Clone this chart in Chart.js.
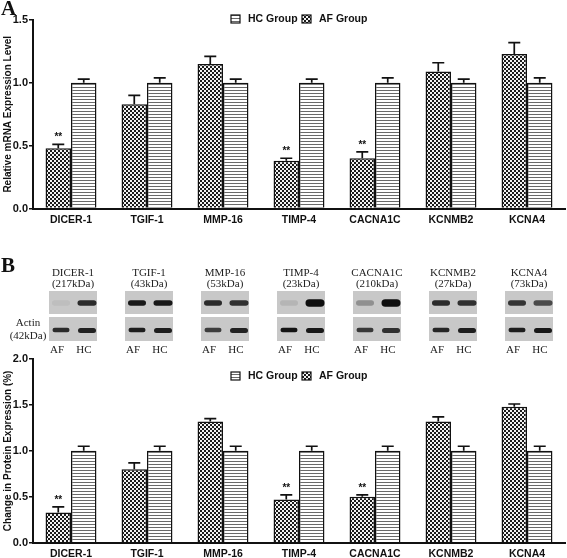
<!DOCTYPE html>
<html>
<head>
<meta charset="utf-8">
<script src="https://cdn.jsdelivr.net/npm/chart.js@4/dist/chart.umd.min.js"></script>
<style>
  html,body{margin:0;padding:0;background:#fff;}
  #wrap{position:relative;width:567px;height:558px;overflow:hidden;background:#fff;}
  canvas{position:absolute;left:0;}
  #cA{top:0;}
  #cB{top:230px;}
</style>
</head>
<body>
<div id="wrap">
  <canvas id="cA" width="567" height="230"></canvas>
  <canvas id="cB" width="567" height="328"></canvas>
</div>
<script>
// ---------- data ----------
const categories = ['DICER-1','TGIF-1','MMP-16','TIMP-4','CACNA1C','KCNMB2','KCNA4'];
const kdaLabels  = ['(217kDa)','(43kDa)','(53kDa)','(23kDa)','(210kDa)','(27kDa)','(73kDa)'];

const mrnaAF    = [0.48, 0.83, 1.15, 0.38, 0.40, 1.09, 1.23];
const mrnaAFErr = [0.03, 0.07, 0.06, 0.02, 0.05, 0.07, 0.09];
const mrnaHC    = [1.00, 1.00, 1.00, 1.00, 1.00, 1.00, 1.00];
const mrnaHCErr = [0.03, 0.04, 0.03, 0.03, 0.04, 0.03, 0.04];
const mrnaSig   = [true, false, false, true, true, false, false];

const protAF    = [0.33, 0.80, 1.32, 0.47, 0.50, 1.32, 1.48];
const protAFErr = [0.06, 0.07, 0.03, 0.05, 0.02, 0.05, 0.03];
const protHC    = [1.00, 1.00, 1.00, 1.00, 1.00, 1.00, 1.00];
const protHCErr = [0.05, 0.05, 0.05, 0.05, 0.05, 0.05, 0.05];
const protSig   = [true, false, false, true, true, false, false];

// western blot band intensities (0..1)
const blotTargetAF = [0.05, 0.95, 0.85, 0.10, 0.30, 0.85, 0.80];
const blotTargetHC = [0.85, 0.95, 0.82, 1.00, 1.00, 0.82, 0.68];
const blotActinAF  = [0.85, 0.92, 0.75, 0.98, 0.78, 0.88, 0.92];
const blotActinHC  = [0.90, 0.92, 0.90, 0.95, 0.82, 0.92, 0.95];

const yTicksA = [0, 0.5, 1.0, 1.5];
const yTicksB = [0, 0.5, 1.0, 1.5, 2.0];

// ---------- patterns ----------
function stripePattern(){
  const c=document.createElement('canvas'); c.width=4; c.height=3;
  const g=c.getContext('2d');
  g.fillStyle='#fff'; g.fillRect(0,0,4,3);
  g.fillStyle='#6a6a6a'; g.fillRect(0,0,4,1);
  return g.createPattern(c,'repeat');
}
function checkerPattern(){
  const c=document.createElement('canvas'); c.width=4; c.height=4;
  const g=c.getContext('2d');
  g.fillStyle='#f2f2f2'; g.fillRect(0,0,4,4);
  g.fillStyle='#1a1a1a'; g.fillRect(0,0,2,2); g.fillRect(2,2,2,2);
  return g.createPattern(c,'repeat');
}
const pHC = stripePattern();
const pAF = checkerPattern();

const INK = '#111';
const SANS = "'Liberation Sans', Arial, sans-serif";
const SERIF = "'Liberation Serif', 'Times New Roman', serif";

// ---------- plugins ----------
const errPlugin = {
  id:'errbars',
  afterDatasetsDraw(chart){
    const ctx=chart.ctx, ys=chart.scales.y;
    chart.data.datasets.forEach((ds,di)=>{
      const meta=chart.getDatasetMeta(di);
      meta.data.forEach((bar,i)=>{
        const v=ds.data[i], e=ds.err[i];
        const x=bar.x, y0=ys.getPixelForValue(v), y1=ys.getPixelForValue(v+e);
        ctx.save();
        ctx.strokeStyle=INK; ctx.lineWidth=1.7;
        ctx.beginPath();
        ctx.moveTo(x,y0); ctx.lineTo(x,y1);
        ctx.moveTo(x-6,y1); ctx.lineTo(x+6,y1);
        ctx.stroke();
        if(ds.sig && ds.sig[i]){
          ctx.fillStyle=INK; ctx.font="bold 10px "+SANS;
          ctx.textAlign='center'; ctx.textBaseline='middle';
          ctx.fillText('**', x, y1-7);
        }
        ctx.restore();
      });
    });
  }
};

function drawLegend(ctx, y){
  const items=[{x:231,label:'HC Group',p:pHC},{x:302,label:'AF Group',p:pAF}];
  items.forEach(it=>{
    ctx.save();
    ctx.fillStyle=it.p; ctx.fillRect(it.x, y-4, 9, 8);
    ctx.strokeStyle=INK; ctx.lineWidth=1.2; ctx.strokeRect(it.x, y-4, 9, 8);
    ctx.fillStyle=INK; ctx.font="bold 10.5px "+SANS;
    ctx.textAlign='left'; ctx.textBaseline='middle';
    ctx.fillText(it.label, it.x+17, y+0.5);
    ctx.restore();
  });
}

const decoA = {
  id:'decoA',
  afterDraw(chart){
    const ctx=chart.ctx;
    ctx.save();
    ctx.fillStyle=INK; ctx.font="bold 21px "+SERIF;
    ctx.textAlign='left'; ctx.textBaseline='alphabetic';
    ctx.fillText('A', 1, 15);
    ctx.restore();
    drawLegend(ctx, 19);
  }
};

function band(ctx, x, y, w, h, a){
  if(a<=0) return;
  ctx.save();
  ctx.filter='blur(0.6px)';
  ctx.fillStyle='rgba(15,15,15,'+Math.min(1,a)+')';
  ctx.beginPath();
  ctx.roundRect(x-w/2, y-h/2, w, h, h/2);
  ctx.fill();
  ctx.restore();
}

const decoB = {
  id:'decoB',
  afterDraw(chart){
    const ctx=chart.ctx, xs=chart.scales.x;
    ctx.save();
    ctx.fillStyle=INK; ctx.font="bold 21px "+SERIF;
    ctx.textAlign='left'; ctx.textBaseline='alphabetic';
    ctx.fillText('B', 1, 42);
    ctx.font="11px "+SERIF; ctx.textAlign='center'; ctx.textBaseline='middle';
    ctx.fillStyle='#222';
    ctx.fillText('Actin', 28, 93);
    ctx.fillText('(42kDa)', 28, 106);
    categories.forEach((c,i)=>{
      const cx=xs.getPixelForValue(i)+2;
      const L=cx-24, W=48;
      ctx.fillStyle='#222'; ctx.font="11px "+SERIF;
      ctx.textAlign='center'; ctx.textBaseline='middle';
      ctx.fillText(c, cx, 43);
      ctx.fillText(kdaLabels[i], cx, 54);
      ctx.fillStyle='#c8c8c8';
      ctx.fillRect(L, 61, W, 23);
      ctx.fillRect(L, 87, W, 24);
      const hA = blotTargetAF[i]>0.97 ? 7.5:5.5;
      const hH = blotTargetHC[i]>0.97 ? 7.5:5.5;
      band(ctx, L+12, 73, 18, hA, blotTargetAF[i]);
      band(ctx, L+38, 73, 19, hH, blotTargetHC[i]);
      band(ctx, L+12, 100, 17, 4.5, blotActinAF[i]);
      band(ctx, L+38, 100.5, 18, 5, blotActinHC[i]);
      ctx.fillStyle='#222'; ctx.font="11px "+SERIF;
      ctx.fillText('AF', L+8, 120);
      ctx.fillText('HC', L+35, 120);
    });
    ctx.restore();
    drawLegend(ctx, 146);
  }
};

function makeOptions(ticks, title, padTop, xH){
  return {
    responsive:false, animation:false,
    layout:{padding:{top:padTop,right:2,left:0,bottom:0}},
    plugins:{legend:{display:false}, tooltip:{enabled:false}},
    scales:{
      x:{
        grid:{display:true, drawOnChartArea:false, drawTicks:false},
        border:{display:true, color:INK, width:2},
        ticks:{padding:5, color:INK, font:{family:SANS, size:10.5, weight:'bold'}, maxRotation:0, autoSkip:false},
        afterFit(s){ s.height = xH; }
      },
      y:{
        min:0, max:ticks[ticks.length-1],
        afterBuildTicks(s){ s.ticks = ticks.map(v=>({value:v})); },
        grid:{display:true, drawOnChartArea:false, drawTicks:true, tickLength:4, color:INK, lineWidth:1.5},
        border:{display:true, color:INK, width:2},
        ticks:{padding:1, color:INK, font:{family:SANS, size:11, weight:'bold'}, callback:v=>Number(v).toFixed(1)},
        title:{display:true, text:title, color:INK, padding:{top:2,bottom:0}, font:{family:SANS, size:10, weight:'bold'}},
        afterFit(s){ s.width = 33; }
      }
    }
  };
}

function datasets(af, afErr, hc, hcErr, sig){
  return [
    {label:'AF Group', data:af, err:afErr, sig:sig, backgroundColor:pAF, borderColor:INK, borderWidth:1.5, categoryPercentage:0.67, barPercentage:1.0},
    {label:'HC Group', data:hc, err:hcErr, backgroundColor:pHC, borderColor:INK, borderWidth:1.5, categoryPercentage:0.67, barPercentage:1.0}
  ];
}

new Chart(document.getElementById('cA'), {
  type:'bar',
  data:{labels:categories, datasets:datasets(mrnaAF, mrnaAFErr, mrnaHC, mrnaHCErr, mrnaSig)},
  options:makeOptions(yTicksA, 'Relative mRNA Expression Level', 20, 21.5),
  plugins:[errPlugin, decoA]
});

new Chart(document.getElementById('cB'), {
  type:'bar',
  data:{labels:categories, datasets:datasets(protAF, protAFErr, protHC, protHCErr, protSig)},
  options:makeOptions(yTicksB, 'Change in Protein Expression (%)', 129, 15.3),
  plugins:[errPlugin, decoB]
});
</script>
</body>
</html>
